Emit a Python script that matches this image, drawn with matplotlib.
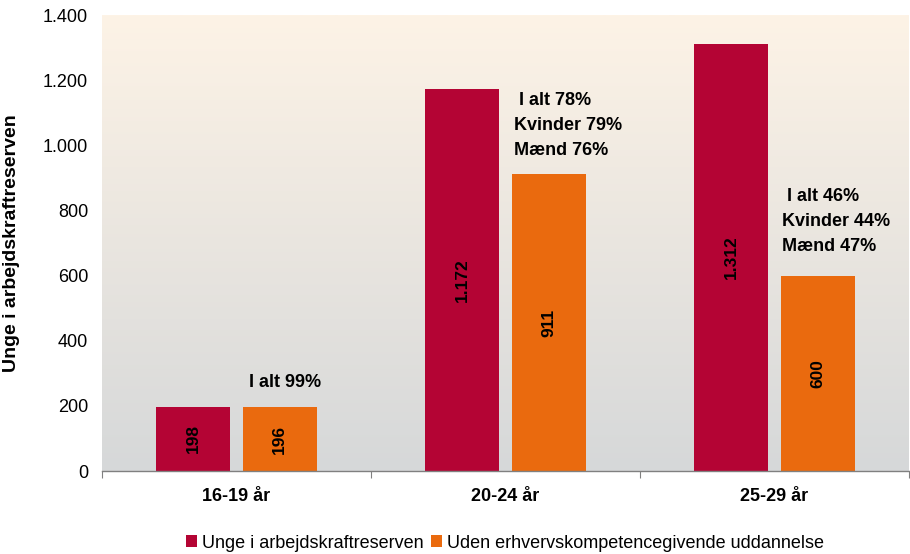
import matplotlib
matplotlib.use("Agg")
import matplotlib.pyplot as plt
import numpy as np
from matplotlib.colors import LinearSegmentedColormap

plt.rcParams['font.family'] = ['Liberation Sans', 'DejaVu Sans']

categories = ["16-19 år", "20-24 år", "25-29 år"]
series_names = ["Unge i arbejdskraftreserven", "Uden erhvervskompetencegivende uddannelse"]
unge = [198, 1172, 1312]
uden = [196, 911, 600]
notes = [["I alt 99%"],
         [" I alt 78%", "Kvinder 79%", "Mænd 76%"],
         [" I alt 46%", "Kvinder 44%", "Mænd 47%"]]
yticks = [0, 200, 400, 600, 800, 1000, 1200, 1400]

red = "#B40434"
orange = "#EA6A0E"

def fmt(v):
    return f"{v:,}".replace(",", ".")

fig = plt.figure(figsize=(9.1, 5.54), dpi=100)
ax = fig.add_axes([102/910, 83/554, 807/910, 456/554])

# gradient background
cmap = LinearSegmentedColormap.from_list("bg", ["#D6D8D9", "#FDF3E6"])
grad = np.linspace(0, 1, 256).reshape(-1, 1)
ax.imshow(grad, aspect="auto", cmap=cmap, origin="lower",
          extent=[-0.5, 2.5, 0, 1400], zorder=0)

x = np.arange(len(categories))
w = 0.275
off = 0.16
b1 = ax.bar(x - off, unge, w, color=red, label=series_names[0], zorder=2)
b2 = ax.bar(x + off, uden, w, color=orange, label=series_names[1], zorder=2)

for xi, v in zip(x - off, unge):
    ax.text(xi, v / 2, fmt(v), rotation=90, ha="center", va="center",
            fontsize=12.5, fontweight="bold", color="black", zorder=3)
for xi, v in zip(x + off, uden):
    ax.text(xi, v / 2, fmt(v), rotation=90, ha="center", va="center",
            fontsize=12.5, fontweight="bold", color="black", zorder=3)

# notes (one text per line)
ax.text(x[0] + off + 0.02, 273, notes[0][0], ha="center", va="center",
        fontsize=13, fontweight="bold", zorder=3)
for k, line in enumerate(notes[1]):
    ax.text(1.03, 1139 - k * 77, line, ha="left", va="center",
            fontsize=13, fontweight="bold", zorder=3)
for k, line in enumerate(notes[2]):
    ax.text(2.028, 844 - k * 77, line, ha="left", va="center",
            fontsize=13, fontweight="bold", zorder=3)

ax.set_xlim(-0.5, 2.5)
ax.set_ylim(0, 1400)
ax.set_yticks(yticks)
ax.set_yticklabels([fmt(t) for t in yticks], fontsize=13)
ax.tick_params(axis="y", length=0, pad=10)

ax.set_xticks([-0.5, 0.5, 1.5, 2.5])
ax.set_xticklabels([])
ax.tick_params(axis="x", which="major", length=5, color="#808080", direction="out")
ax.set_xticks(x, minor=True)
ax.set_xticklabels(categories, minor=True, fontsize=13, fontweight="bold")
ax.tick_params(axis="x", which="minor", length=0, pad=12)

for s in ["top", "right", "left"]:
    ax.spines[s].set_visible(False)
ax.spines["bottom"].set_color("#808080")
ax.spines["bottom"].set_linewidth(1.0)

ax.set_ylabel("Unge i arbejdskraftreserven", fontsize=14, fontweight="bold")
ax.yaxis.set_label_coords(-0.1016, 0.5)

leg = fig.legend(handles=[b1, b2], labels=series_names, loc="center",
                 bbox_to_anchor=(505/910, 1 - 543/554), ncol=2, frameon=False,
                 fontsize=13, handlelength=0.6, handleheight=0.6,
                 handletextpad=0.3, columnspacing=0.4)

fig.savefig("out.png", dpi=100)
